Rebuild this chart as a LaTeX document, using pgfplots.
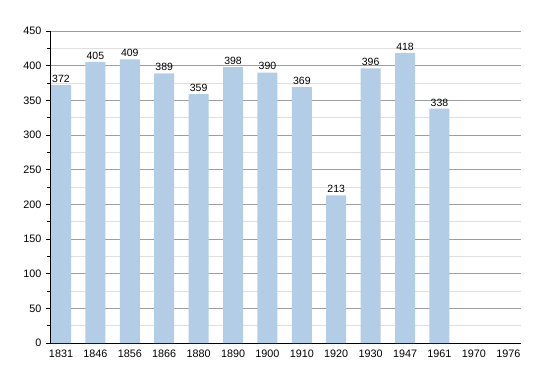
\documentclass[border=0pt]{standalone}
\usepackage{pgfplots}
\pgfplotsset{compat=1.18}
\usepackage{fontspec}
\setmainfont{Liberation Sans}
\definecolor{barblue}{HTML}{B3CDE6}
\begin{document}
\begin{tikzpicture}
\useasboundingbox (-50pt,-30pt) rectangle (500pt,343pt);
\begin{axis}[
  scale only axis, width=471pt, height=312pt,
  xmin=-0.32, xmax=13.37, ymin=0, ymax=450,
  axis x line*=bottom, axis y line*=left,
  axis line style={black, line width=0.8pt},
  xtick={0,...,13},
  xticklabels={1831,1846,1856,1866,1880,1890,1900,1910,1920,1930,1947,1961,1970,1976},
  x tick style={draw=none},
  ytick={0,50,...,450},
  minor ytick={25,75,...,425},
  ymajorgrids, yminorgrids,
  major grid style={color=black!38, line width=0.6pt},
  minor grid style={color=black!12, line width=0.6pt},
  tick align=outside,
  major tick length=4pt, minor tick length=2.5pt,
  y tick style={black, line width=0.6pt},
  ticklabel style={font=\fontsize{10.8}{12}\selectfont},
  /pgf/number format/assume math mode=true,
  xticklabel style={yshift=1pt},
  yticklabel style={xshift=-1pt},
  nodes near coords,
  every node near coord/.append style={font=\fontsize{10.5}{12}\selectfont, yshift=-1pt},
  clip=false,
]
\addplot[ybar, bar width=20pt, fill=barblue, draw=none] coordinates {
(0,372) (1,405) (2,409) (3,389) (4,359) (5,398) (6,390) (7,369) (8,213) (9,396) (10,418) (11,338)
};
\end{axis}
\end{tikzpicture}
\end{document}
